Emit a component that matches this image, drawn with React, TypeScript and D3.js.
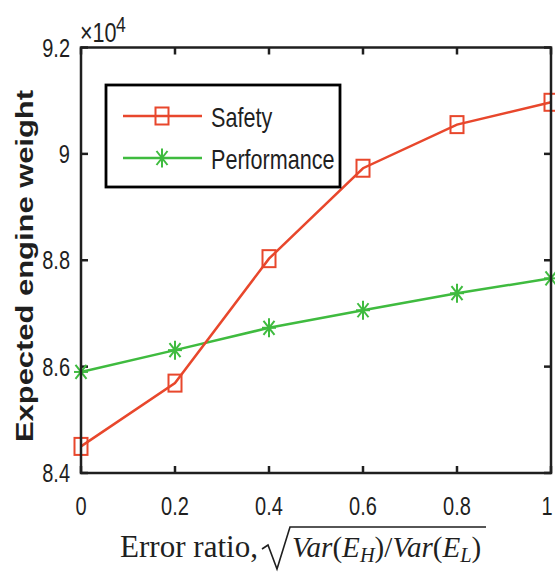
import React from "react";
import * as d3 from "d3";

const errorRatio = [0, 0.2, 0.4, 0.6, 0.8, 1];
const safetyWeight = [84500, 85690, 88030, 89730, 90550, 90970];
const performanceWeight = [85900, 86310, 86730, 87060, 87380, 87660];
const xTicks = [0, 0.2, 0.4, 0.6, 0.8, 1];
const yTicks = [84000, 86000, 88000, 90000, 92000];
const seriesNames = ["Safety", "Performance"];

const W = 555;
const H = 572;
const RED = "#e8472c";
const GREEN = "#3fbb3f";
const AX = "#1f1f1f";
const SX = 0.8;

function Square({ x, y }: { x: number; y: number }) {
  return <rect x={x - 6.5} y={y - 8.5} width={13} height={17} fill="none" stroke={RED} strokeWidth={2} />;
}
function Star({ x, y }: { x: number; y: number }) {
  const w = 7, h = 9.5, dw = 5.5, dh = 7;
  return (
    <g stroke={GREEN} strokeWidth={2}>
      <line x1={x - w} y1={y} x2={x + w} y2={y} />
      <line x1={x} y1={y - h} x2={x} y2={y + h} />
      <line x1={x - dw} y1={y - dh} x2={x + dw} y2={y + dh} />
      <line x1={x - dw} y1={y + dh} x2={x + dw} y2={y - dh} />
    </g>
  );
}

function SText({ x, y, anchor, size, children, family, style, weight }: any) {
  return (
    <text
      transform={`translate(${x},${y}) scale(${SX},1)`}
      textAnchor={anchor || "start"}
      fontSize={size}
      fontFamily={family || "'Liberation Sans', Arial, sans-serif"}
      fontStyle={style}
      fontWeight={weight}
      fill={AX}
    >
      {children}
    </text>
  );
}

export default function App() {
  const x = d3.scaleLinear().domain([0, 1]).range([81, 551]);
  const y = d3.scaleLinear().domain([84000, 92000]).range([473, 47.5]);
  const line = d3
    .line<number>()
    .x((_, i) => x(errorRatio[i]))
    .y((d) => y(d));
  const fmt = (v: number) => d3.format("~g")(v / 10000);
  const L = x.range()[0], R = x.range()[1], T = y.range()[1], B = y.range()[0];
  const tk = 7;

  return (
    <svg width={W} height={H} style={{ position: "absolute", left: 0, top: 0, background: "#fff" }}>
      <rect width={W} height={H} fill="#fff" />
      {/* ticks */}
      <g stroke={AX} strokeWidth={2.5}>
        {xTicks.map((t) => (
          <g key={"xt" + t}>
            <line x1={x(t)} x2={x(t)} y1={B} y2={B - tk} />
            <line x1={x(t)} x2={x(t)} y1={T} y2={T + tk} />
          </g>
        ))}
        {yTicks.map((t) => (
          <g key={"yt" + t}>
            <line x1={L} x2={L + tk} y1={y(t)} y2={y(t)} />
            <line x1={R} x2={R - tk} y1={y(t)} y2={y(t)} />
          </g>
        ))}
      </g>
      {/* series */}
      <path d={line(performanceWeight) || ""} fill="none" stroke={GREEN} strokeWidth={2.5} />
      <path d={line(safetyWeight) || ""} fill="none" stroke={RED} strokeWidth={2.5} />
      {performanceWeight.map((v, i) => (
        <Star key={"p" + i} x={x(errorRatio[i])} y={y(v)} />
      ))}
      {safetyWeight.map((v, i) => (
        <Square key={"s" + i} x={x(errorRatio[i])} y={y(v)} />
      ))}
      {/* frame */}
      <rect x={L} y={T} width={R - L} height={B - T} fill="none" stroke={AX} strokeWidth={2.5} />
      {/* tick labels */}
      {xTicks.map((t) => (
        <SText key={"xl" + t} x={Math.min(x(t), 547)} y={515} anchor="middle" size={25}>
          {fmt(t * 10000)}
        </SText>
      ))}
      {yTicks.map((t) => (
        <SText key={"yl" + t} x={70} y={y(t) + 9} anchor="end" size={25}>
          {fmt(t)}
        </SText>
      ))}
      {/* exponent */}
      <SText x={80} y={42} size={27}>×10</SText>
      <SText x={116} y={32} size={22}>4</SText>
      {/* y label */}
      <text
        transform="translate(33,266) rotate(-90)"
        textAnchor="middle"
        fontSize={24}
        fontWeight="bold"
        fontFamily="'Liberation Sans', Arial, sans-serif"
        textLength={352}
        lengthAdjust="spacingAndGlyphs"
        fill={AX}
      >
        Expected engine weight
      </text>
      {/* x label */}
      <text
        x={120}
        y={557}
        fontSize={31}
        fontFamily="'Liberation Serif', 'Times New Roman', serif"
        textLength={138}
        lengthAdjust="spacingAndGlyphs"
        fill={AX}
      >
        Error ratio,
      </text>
      <path d="M262,549 L268,545 L277,569 L290,527 L486,527" fill="none" stroke={AX} strokeWidth={1.6} />
      <text
        transform="translate(292,557) scale(0.97,1)"
        fontSize={30}
        fontFamily="'Liberation Serif', 'Times New Roman', serif"
        fill={AX}
      >
        <tspan fontStyle="italic">Var</tspan>
        <tspan>(</tspan>
        <tspan fontStyle="italic">E</tspan>
        <tspan fontStyle="italic" fontSize={21} dy={5}>H</tspan>
        <tspan dy={-5}>)/</tspan>
        <tspan fontStyle="italic">Var</tspan>
        <tspan>(</tspan>
        <tspan fontStyle="italic">E</tspan>
        <tspan fontStyle="italic" fontSize={21} dy={5}>L</tspan>
        <tspan dy={-5}>)</tspan>
      </text>
      {/* legend */}
      <rect x={106} y={85} width={234} height={102} fill="#fff" stroke="#000" strokeWidth={2.8} />
      <line x1={123} x2={202} y1={116} y2={116} stroke={RED} strokeWidth={2.5} />
      <Square x={162} y={116} />
      <line x1={123} x2={202} y1={158} y2={158} stroke={GREEN} strokeWidth={2.5} />
      <Star x={162} y={158} />
      <SText x={211} y={127} size={27}>{seriesNames[0]}</SText>
      <SText x={211} y={169} size={27}>{seriesNames[1]}</SText>
    </svg>
  );
}
